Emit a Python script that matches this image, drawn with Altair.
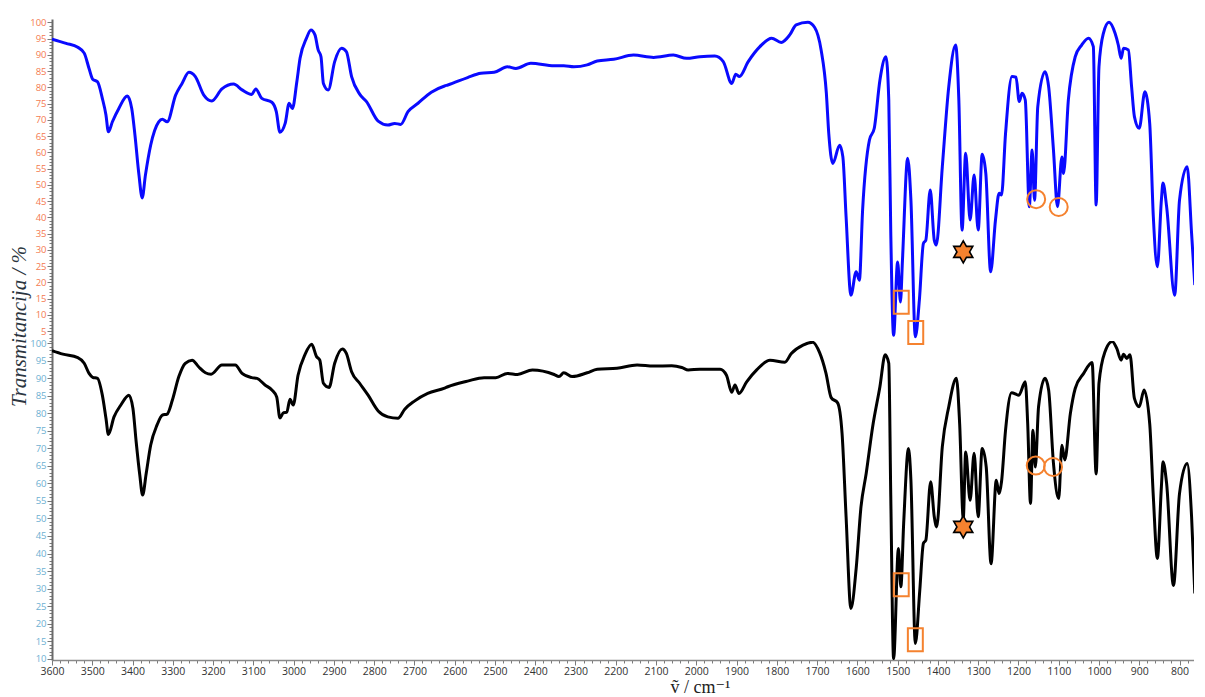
import math
import altair as alt
import pandas as pd

# ---------------- data ----------------
wn_top = [3600, 3565, 3536, 3520, 3508, 3499, 3487, 3475, 3466, 3460, 3450, 3434, 3413, 3402, 3394, 3384,
          3376, 3368, 3355, 3335, 3326, 3314, 3293, 3277, 3260, 3244, 3223, 3203, 3178, 3149, 3128, 3104,
          3094, 3079, 3054, 3043, 3034, 3021, 3011, 3003, 2992, 2984, 2968, 2957, 2947, 2939, 2932, 2926,
          2914, 2898, 2881, 2869, 2856, 2836, 2819, 2790, 2766, 2749, 2734, 2716, 2691, 2658, 2625, 2617,
          2568, 2535, 2502, 2469, 2448, 2411, 2353, 2329, 2304, 2271, 2246, 2205, 2156, 2106, 2057, 2024,
          1991, 1954, 1933, 1912, 1902, 1893, 1871, 1842, 1813, 1789, 1768, 1752, 1723, 1706, 1690, 1677,
          1671, 1661, 1644, 1636, 1628, 1616, 1603, 1595, 1587, 1570, 1558, 1544, 1529, 1522, 1517, 1510,
          1500, 1493, 1488, 1475, 1467, 1456, 1446, 1436, 1430, 1419, 1409, 1404, 1389, 1373, 1356, 1348,
          1340, 1331, 1320, 1310, 1300, 1290, 1281, 1269, 1257, 1248, 1242, 1232, 1216, 1206, 1198, 1191,
          1183, 1173, 1166, 1160, 1152, 1134, 1125, 1113, 1103, 1092, 1088, 1076, 1059, 1043, 1026, 1014,
          1007, 1000, 989, 975, 960, 952, 945, 939, 927, 919, 912, 900, 886, 874, 865, 855,
          845, 841, 832, 812, 800, 781, 770, 762]
t_top = [94.8, 93.5, 92.3, 90.5, 85.8, 82.5, 81.7, 76.6, 71.5, 66.3, 69.4, 73.5, 77.3, 73.5, 65.3, 53.0,
         46.0, 53.0, 62.2, 69.4, 70.2, 69.4, 77.6, 81.2, 84.6, 83.3, 77.6, 75.8, 79.5, 81.0, 79.2, 77.8,
         79.5, 76.6, 75.4, 72.5, 66.2, 68.9, 75.1, 73.5, 81.7, 88.9, 95.1, 97.6, 96.1, 91.5, 89.4, 81.2,
         79.2, 87.9, 92.0, 91.0, 83.3, 77.9, 75.6, 69.6, 68.4, 68.9, 68.6, 72.5, 75.1, 78.5, 80.4, 80.7,
         83.0, 84.3, 84.6, 86.3, 85.8, 87.4, 86.6, 86.6, 86.3, 86.9, 88.1, 88.6, 89.9, 89.2, 89.9, 88.9,
         89.4, 89.6, 87.9, 81.2, 84.0, 83.3, 87.9, 92.5, 95.1, 93.8, 96.1, 99.2, 100.0, 98.4, 91.5, 78.2,
         65.8, 56.6, 62.2, 58.6, 40.2, 16.1, 23.3, 20.7, 42.2, 63.8, 67.4, 82.2, 89.4, 76.1, 35.1, 3.8,
         26.3, 14.0, 26.8, 58.2, 45.3, 3.3, 14.6, 32.0, 33.0, 48.4, 33.0, 31.5, 55.6, 80.2, 93.0, 76.1,
         36.1, 59.7, 39.2, 53.0, 36.1, 59.4, 53.5, 23.3, 39.2, 47.4, 46.9, 65.8, 83.3, 83.1, 75.6, 78.2,
         76.1, 43.3, 60.7, 45.3, 74.0, 84.8, 80.2, 60.7, 43.3, 58.6, 53.5, 76.1, 89.4, 93.0, 95.1, 92.5,
         43.8, 86.3, 96.6, 100.0, 96.6, 93.0, 88.9, 92.0, 91.5, 80.2, 71.0, 67.4, 78.6, 68.9, 40.2, 24.8,
         45.3, 50.6, 43.3, 16.1, 45.3, 55.6, 35.1, 19.2]

wn_bot = [3600, 3573, 3536, 3520, 3508, 3499, 3487, 3475, 3466, 3460, 3446, 3429, 3409, 3399, 3391, 3382,
          3375, 3366, 3355, 3339, 3326, 3314, 3301, 3285, 3269, 3252, 3236, 3219, 3205, 3178, 3145, 3128,
          3104, 3091, 3071, 3054, 3042, 3034, 3025, 3017, 3009, 3001, 2989, 2972, 2955, 2943, 2935, 2926,
          2912, 2898, 2879, 2869, 2856, 2836, 2815, 2790, 2766, 2741, 2724, 2700, 2667, 2625, 2617, 2568,
          2527, 2498, 2469, 2444, 2407, 2353, 2341, 2329, 2308, 2271, 2246, 2197, 2147, 2106, 2061, 2036,
          2020, 1991, 1941, 1925, 1912, 1904, 1894, 1875, 1850, 1817, 1780, 1764, 1735, 1711, 1694, 1678,
          1665, 1649, 1638, 1628, 1616, 1603, 1591, 1578, 1562, 1544, 1531, 1522, 1517, 1510, 1498, 1492,
          1485, 1473, 1467, 1456, 1445, 1436, 1430, 1418, 1409, 1403, 1389, 1373, 1354, 1346, 1337, 1331,
          1320, 1310, 1300, 1290, 1280, 1268, 1255, 1248, 1242, 1232, 1217, 1199, 1183, 1177, 1170, 1164,
          1158, 1150, 1134, 1125, 1113, 1100, 1092, 1085, 1071, 1059, 1038, 1017, 1007, 1000, 985, 967,
          956, 945, 939, 931, 923, 912, 900, 888, 874, 865, 855, 845, 841, 832, 815, 800,
          781, 770, 762]
t_bot = [97.9, 96.9, 95.9, 94.3, 91.4, 90.3, 90.0, 85.2, 78.6, 74.0, 79.0, 82.4, 85.2, 81.4, 71.9, 62.4,
         56.7, 62.9, 70.9, 76.7, 79.5, 79.8, 83.8, 90.5, 94.3, 95.2, 93.3, 91.6, 91.2, 93.8, 93.8, 91.4,
         90.2, 90.0, 88.1, 86.7, 84.7, 78.7, 80.2, 80.3, 84.0, 82.4, 90.9, 96.7, 99.7, 96.2, 95.2, 88.6,
         87.4, 94.3, 98.4, 97.1, 91.9, 88.6, 85.2, 80.7, 79.0, 78.6, 81.2, 83.5, 85.7, 87.2, 87.6, 89.2,
         90.2, 90.2, 91.4, 91.1, 92.4, 91.1, 90.5, 91.6, 90.5, 91.6, 92.6, 92.9, 93.8, 93.5, 93.6, 93.1,
         92.4, 92.6, 92.6, 90.9, 86.0, 88.1, 85.7, 89.0, 92.4, 95.2, 94.6, 97.1, 99.5, 100.3, 97.4, 91.5,
         84.5, 83.0, 74.3, 50.5, 24.3, 35.7, 53.3, 62.9, 76.2, 87.6, 96.7, 94.3, 56.2, 10.0, 41.4, 30.5,
         48.6, 70.0, 60.9, 14.3, 29.5, 42.9, 43.8, 60.5, 50.5, 47.6, 70.5, 81.9, 90.0, 77.1, 50.0, 69.0,
         55.2, 68.6, 50.5, 70.0, 64.7, 37.1, 60.9, 57.1, 60.5, 75.2, 85.9, 85.2, 89.0, 77.1, 54.3, 75.2,
         64.7, 81.9, 90.0, 86.7, 65.7, 55.7, 70.9, 66.7, 80.0, 87.1, 91.4, 94.5, 62.7, 88.6, 97.6, 100.5,
         98.6, 95.2, 96.9, 95.7, 96.7, 84.3, 81.9, 86.7, 77.1, 56.2, 38.6, 59.0, 66.2, 60.0, 30.9, 57.1,
         65.7, 50.5, 28.6]

# annotation markers (wavenumber, transmittance)
rect_wn_top = [1491, 1455]
rect_t_top = [13.9, 4.6]
circ_wn_top = [1156, 1100]
circ_t_top = [45.6, 43.2]
star_wn_top = [1337]
star_t_top = [29.4]

rect_wn_bot = [1491, 1456]
rect_t_bot = [31.1, 15.4]
circ_wn_bot = [1157, 1114]
circ_t_bot = [65.1, 64.7]
star_wn_bot = [1337]
star_t_bot = [47.6]

x_ticks = list(range(780, 3601, 20))
y_ticks_top = list(range(2, 101))
y_ticks_bot = list(range(10, 101))

# ---------------- styling ----------------
ORANGE = "#f5822f"
AXIS_GRAY = "#7a7a7a"
RECT_PATH = "M-0.65,-1L0.65,-1L0.65,1L-0.65,1Z"
_pts = []
for k in range(12):
    ang = math.radians(-90 + 30 * k)
    r = 1.0 if k % 2 == 0 else 0.577
    _pts.append(f"{r * math.cos(ang):.3f},{r * math.sin(ang):.3f}")
STAR_PATH = "M" + "L".join(_pts) + "Z"

X_SCALE = alt.Scale(domain=[764, 3600], reverse=True, nice=False, zero=False)
PLOT_W = 1142


def y_axis(values, label_color, title=None):
    kw = dict(
        values=values,
        labelExpr="datum.value % 5 === 0 ? datum.label : ''",
        tickSize={"condition": {"test": "datum.value % 5 === 0", "value": 5}, "value": 3},
        tickColor=AXIS_GRAY,
        tickWidth=1,
        domainColor="#6a6a6a",
        domainWidth=2,
        labelColor=label_color,
        labelFont="Open Sans",
        labelFontSize=9.5,
        labelPadding=1,
        labelOverlap=False,
        labelFlush=False,
        grid=False,
    )
    if title:
        kw.update(
            title=title,
            titleFont="Liberation Serif",
            titleFontStyle="italic",
            titleFontWeight="normal",
            titleFontSize=21,
            titleColor="#2b3540",
            titleAngle=270,
            titleX=-33,
            titleY=307,
            titleAlign="center",
            titleBaseline="middle",
        )
    else:
        kw["title"] = ""
    return alt.Axis(**kw)


def panel(wn, t, rw, rt, cw, ct, sw, st, color, ydom, yvals, label_color, height, x_axis, y_title):
    df = pd.concat([
        pd.DataFrame({"wn": wn, "T": t, "kind": "spec"}),
        pd.DataFrame({"wn": rw, "T": rt, "kind": "rect"}),
        pd.DataFrame({"wn": cw, "T": ct, "kind": "circ"}),
        pd.DataFrame({"wn": sw, "T": st, "kind": "star"}),
    ], ignore_index=True)
    yscale = alt.Scale(domain=ydom, nice=False, zero=False)
    yenc = alt.Y("T:Q", scale=yscale, axis=y_axis(yvals, label_color, y_title))
    xenc = alt.X("wn:Q", scale=X_SCALE, axis=x_axis)
    base = alt.Chart(df).encode(x=xenc, y=yenc)

    line = base.transform_filter("datum.kind === 'spec'").mark_line(
        color=color, strokeWidth=3, clip=True, interpolate="monotone"
    )
    rects = base.transform_filter("datum.kind === 'rect'").mark_point(
        shape=RECT_PATH, size=529, filled=False, stroke=ORANGE, strokeWidth=2, opacity=1
    )
    circles = base.transform_filter("datum.kind === 'circ'").mark_point(
        shape="circle", size=324, filled=False, stroke=ORANGE, strokeWidth=2, opacity=1
    )
    stars = base.transform_filter("datum.kind === 'star'").mark_point(
        shape=STAR_PATH, size=484, filled=True, fill=ORANGE, stroke="black", strokeWidth=1.6, opacity=1
    )
    return alt.layer(line, rects, circles, stars).properties(width=PLOT_W, height=height)


x_axis_bottom = alt.Axis(
    values=x_ticks,
    format="d",
    labelExpr="datum.value % 100 === 0 ? datum.label : ''",
    tickSize={"condition": {"test": "datum.value % 100 === 0", "value": 5}, "value": 3},
    tickColor=AXIS_GRAY,
    domainColor="#8a8a8a",
    domainWidth=1.5,
    labelColor="#333333",
    labelFont="Open Sans",
    labelFontSize=10.5,
    labelPadding=1,
    labelOverlap=False,
    labelFlush=False,
    grid=False,
    title="ṽ / cm⁻¹",
    titleFont="Liberation Serif, DejaVu Serif",
    titleFontSize=18,
    titleFontWeight="normal",
    titleColor="#222222",
    titleX=648,
    titleY=27,
    titleAlign="center",
    titleBaseline="middle",
)

top = panel(wn_top, t_top, rect_wn_top, rect_t_top, circ_wn_top, circ_t_top,
            star_wn_top, star_t_top, "#0a0aff", [2, 101], y_ticks_top, "#f47a50",
            322, None, "Transmitancija / %")
bottom = panel(wn_bot, t_bot, rect_wn_bot, rect_t_bot, circ_wn_bot, circ_t_bot,
               star_wn_bot, star_t_bot, "#000000", [9.6, 100.66], y_ticks_bot, "#6db0d2",
               319, x_axis_bottom, None)

chart = alt.vconcat(top, bottom, spacing=0, bounds="flush").properties(
    padding={"top": 9, "left": 0, "right": 0, "bottom": 0}
).configure_view(stroke=None)

chart.save("out.html", embed_options={"renderer": "svg", "actions": False})
